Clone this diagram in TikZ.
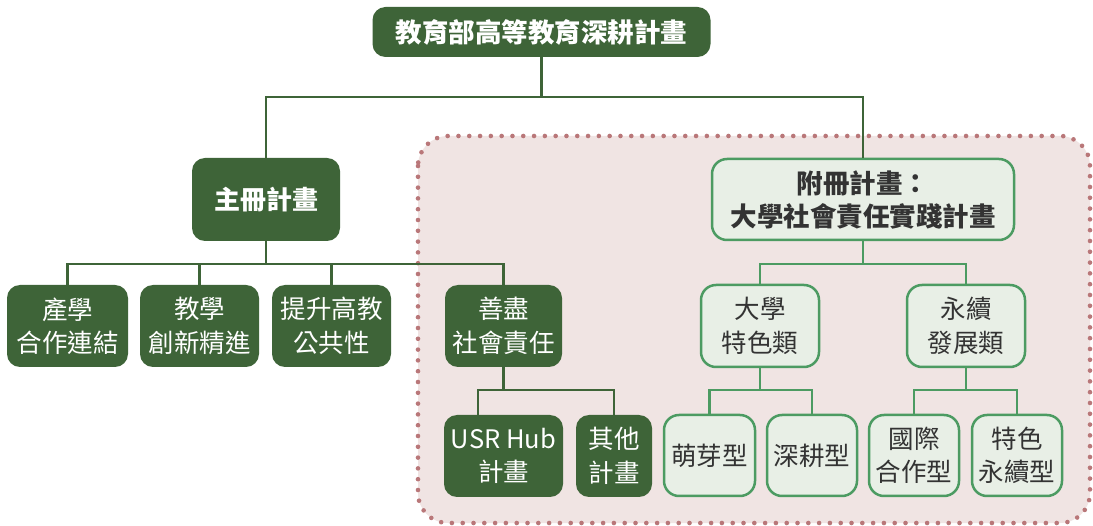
\documentclass[tikz,border=0pt]{standalone}
\usepackage{fontspec}
\setmainfont{Noto Sans CJK TC}
\usetikzlibrary{calc}
\definecolor{dkgreen}{HTML}{3E6438}
\definecolor{mdgreen}{HTML}{4C9B62}
\definecolor{ltfill}{HTML}{E8EFE6}
\definecolor{txtdark}{HTML}{333333}
\definecolor{pinkfill}{HTML}{F0E4E3}
\definecolor{dotcol}{HTML}{B97779}
\tikzset{
  dkbox/.style={fill=dkgreen, draw=none, rounded corners=13pt, text=white, inner sep=0pt, align=center, font=\fontsize{25.5}{33.5}\selectfont},
  ltbox/.style={fill=ltfill, draw=mdgreen, line width=2.5pt, rounded corners=15pt, text=txtdark, inner sep=0pt, align=center, font=\fontsize{25.5}{33.5}\selectfont},
  dkline/.style={draw=dkgreen, line width=2.5pt},
  mdline/.style={draw=mdgreen, line width=2.5pt},
}
\begin{document}
\begin{tikzpicture}[x=1pt,y=-1pt]
\useasboundingbox[fill=white] (0,0) rectangle (1093,526);
% dotted region
\draw[fill=pinkfill, draw=dotcol, line width=4.6pt, line cap=round, dash pattern=on 0pt off 10.8pt, rounded corners=30pt] (418,136) rectangle (1090,523);

% nodes
\node[dkbox, minimum width=338pt, minimum height=50pt, font=\fontsize{26.5}{33}\selectfont\bfseries] (top) at (541.5,32) {教育部高等教育深耕計畫};
\node[dkbox, minimum width=148pt, minimum height=83pt, font=\fontsize{26}{33}\selectfont\bfseries] (main) at (266,199.5) {主冊計畫};
\node[ltbox, minimum width=302pt, minimum height=81pt, font=\fontsize{26.5}{33}\selectfont\bfseries] (aux) at (863,199.5) {附冊計畫：\\大學社會責任實踐計畫};

\node[dkbox, minimum width=121pt, minimum height=82pt] (n1) at (67.5,326) {產學\\合作連結};
\node[dkbox, minimum width=119pt, minimum height=82pt] (n2) at (199.5,326) {教學\\創新精進};
\node[dkbox, minimum width=119pt, minimum height=82pt] (n3) at (331.5,326) {提升高教\\公共性};
\node[dkbox, minimum width=117pt, minimum height=82pt] (n4) at (503.5,326) {善盡\\社會責任};

\node[dkbox, minimum width=119pt, minimum height=82pt] (u1) at (503.5,456) {USR Hub\\計畫};
\node[dkbox, minimum width=76pt, minimum height=82pt] (u2) at (614,456) {其他\\計畫};

\node[ltbox, minimum width=118pt, minimum height=82pt] (c1) at (760,326) {大學\\特色類};
\node[ltbox, minimum width=118pt, minimum height=82pt] (c2) at (966,326) {永續\\發展類};

\node[ltbox, minimum width=91pt, minimum height=81pt] (g1) at (709.5,455.5) {萌芽型};
\node[ltbox, minimum width=90pt, minimum height=81pt] (g2) at (812,455.5) {深耕型};
\node[ltbox, minimum width=90pt, minimum height=81pt] (g3) at (914,455.5) {國際\\合作型};
\node[ltbox, minimum width=90pt, minimum height=81pt] (g4) at (1017,455.5) {特色\\永續型};

% junctions
\coordinate (j0) at (541.5,97);
\coordinate (j1) at (266,264);
\coordinate (j2) at (503.5,390);
\coordinate (j3) at (863,264);
\coordinate (j4) at (760,390);
\coordinate (j5) at (966,390);
\coordinate (u1top) at (478,415);

% connectors
\draw[dkline] (top.south) -- (j0);
\draw[dkline] (main.north) |- (j0) -| (aux.north);
\draw[dkline] (main.south) -- (j1);
\draw[dkline] (n1.north) |- (j1) -| (n4.north);
\draw[dkline] (n2.north) -- (n2.north |- j1);
\draw[dkline] (n3.north) -- (n3.north |- j1);
\draw[dkline] (n4.south) -- (j2);
\draw[dkline] (u1top) |- (j2) -| (u2.north);

\draw[mdline] (aux.south) -- (j3);
\draw[mdline] (c1.north) |- (j3) -| (c2.north);
\draw[mdline] (c1.south) -- (j4);
\draw[mdline] (g1.north) |- (j4) -| (g2.north);
\draw[mdline] (c2.south) -- (j5);
\draw[mdline] (g3.north) |- (j5) -| (g4.north);
\end{tikzpicture}
\end{document}
